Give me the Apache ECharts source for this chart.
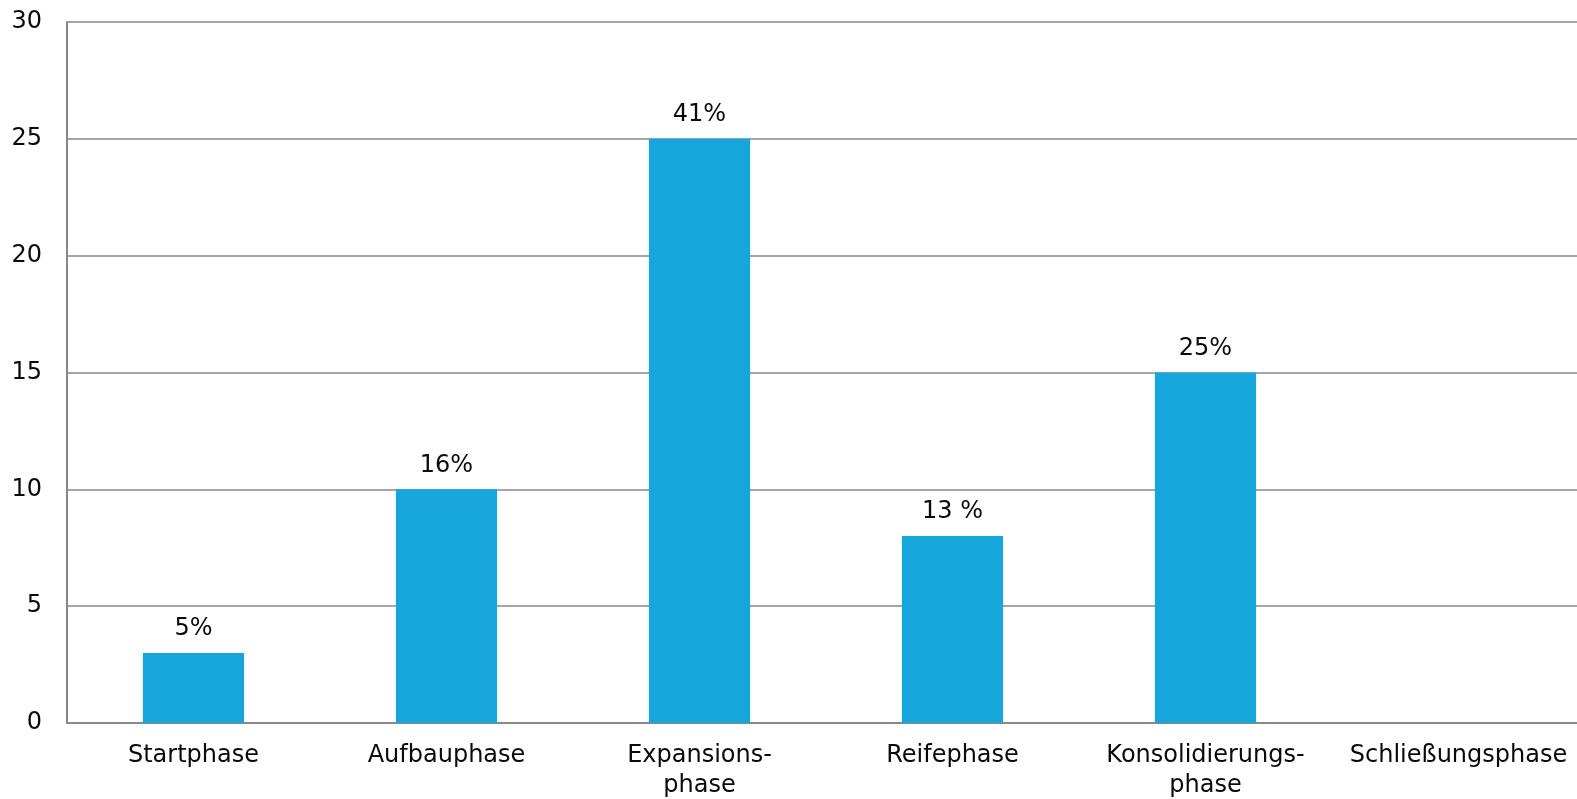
<!DOCTYPE html>
<html>
<head>
<meta charset="utf-8">
<script src="https://cdn.jsdelivr.net/npm/echarts@6/dist/echarts.min.js"></script>
<style>
html,body{margin:0;padding:0;background:#fff;}
#c{width:1577px;height:799px;}
</style>
</head>
<body>
<div id="c"></div>
<script>
var categories = ['Startphase', 'Aufbauphase', 'Expansions-\nphase', 'Reifephase', 'Konsolidierungs-\nphase', 'Schließungsphase'];
var values = [3, 10, 25, 8, 15, 0];
var barLabels = ['5%', '16%', '41%', '13 %', '25%', ''];
var yTicks = [0, 5, 10, 15, 20, 25, 30];

var chart = echarts.init(document.getElementById('c'), null, {renderer: 'canvas'});
var font = '"DejaVu Sans", sans-serif';
chart.setOption({
  animation: false,
  grid: {left: 67, width: 1518, top: 22, bottom: 76, containLabel: false, outerBoundsMode: 'none'},
  xAxis: {
    type: 'category',
    data: categories,
    axisLine: {show: true, lineStyle: {color: '#888888', width: 2}},
    axisTick: {show: false},
    axisLabel: {color: '#0a0a0a', fontSize: 24, fontFamily: font, margin: 18, lineHeight: 30, interval: 0}
  },
  yAxis: {
    type: 'value',
    min: yTicks[0],
    max: yTicks[yTicks.length - 1],
    interval: 5,
    axisLine: {show: true, lineStyle: {color: '#888888', width: 2}},
    axisTick: {show: false},
    axisLabel: {color: '#0a0a0a', fontSize: 24, fontFamily: font, margin: 25},
    splitLine: {show: true, lineStyle: {color: '#888888', width: 1.5}}
  },
  series: [{
    type: 'bar',
    data: values,
    barWidth: '40%',
    itemStyle: {color: '#17A6DC'},
    label: {
      show: true,
      position: 'top',
      distance: 12,
      color: '#0a0a0a',
      fontSize: 24,
      fontFamily: font,
      formatter: function (p) { return barLabels[p.dataIndex]; }
    }
  }]
});
</script>
</body>
</html>
